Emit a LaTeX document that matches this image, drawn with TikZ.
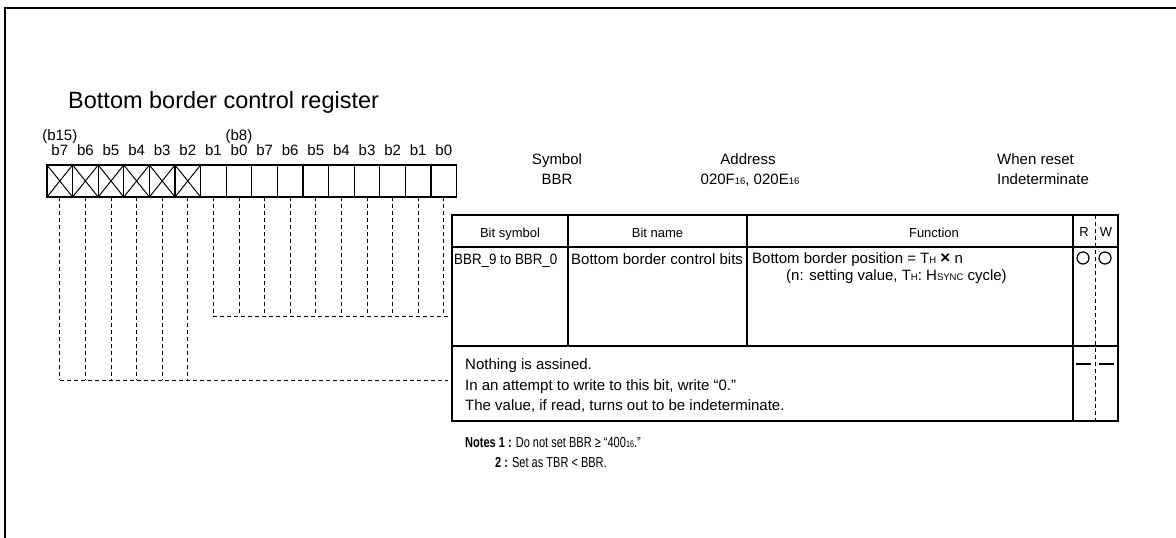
\documentclass[tikz,border=0pt]{standalone}
\usepackage{fontspec}
\usepackage{graphicx}
\setmainfont{Liberation Sans}
\newcommand{\sz}[1]{\fontsize{#1}{#1}\selectfont}
\newcommand{\sub}[1]{{\sz{9.5}#1}}
\begin{document}
\begin{tikzpicture}[x=1pt,y=-1pt,
  frame/.style={line width=2.5pt},
  cell/.style={draw, line width=1.3pt, minimum width=25.6pt, minimum height=32pt, inner sep=0pt, outer sep=0pt},
  cross/.style={line width=1pt},
  tbl/.style={line width=1.3pt},
  dsh/.style={line width=1pt, dash pattern=on 4pt off 3pt},
  txt/.style={inner sep=0pt, font=\sz{15}},
  hdr/.style={inner sep=0pt, font=\sz{13}},
  note/.style={inner sep=0pt, font=\sz{14.5}},
  rw/.style={circle, draw, line width=1.2pt, minimum size=12pt, inner sep=0pt}]
\useasboundingbox (0,0) rectangle (1176,538);
% frame
\draw[frame] (5,538) -- (5,8) -- (1176,8);
% title
\node[inner sep=0pt, anchor=base west, font=\sz{23.5}] (title) at (68,108) {Bottom border control register};
% bit cells
\foreach \i in {0,...,15}{
  \node[cell, anchor=north west] (c\i) at ({47+25.6*\i},165) {};
  \pgfmathtruncatemacro{\b}{7-mod(\i,8)}
  \node[txt, anchor=base] (lb\i) at ({59.8+25.6*\i},155) {b\b};
}
\foreach \i in {0,...,5}{
  \draw[cross] (c\i.north west) -- (c\i.south east) (c\i.north east) -- (c\i.south west);
}
\node[txt, anchor=base] (b15) at (59.8,140) {(b15)};
\node[txt, anchor=base] (b8) at (239,140) {(b8)};
% header info
\node[txt, anchor=base] (symh) at (557,164) {Symbol};
\node[txt, anchor=base] (symv) at (557,184) {BBR};
\node[txt, anchor=base] (addh) at (748,164) {Address};
\node[txt, anchor=base] (addv) at (750,184) {020F\sub{16}, 020E\sub{16}};
\node[txt, anchor=base west] (rsth) at (997,164) {When reset};
\node[txt, anchor=base west] (rstv) at (997,184) {Indeterminate};
% dashed connectors
\coordinate (hA) at (448,380);
\coordinate (hB) at (448,316);
\foreach \i in {0,...,5}{
  \draw[dsh] (c\i.south) -- (c\i.south |- hA);
}
\foreach \i in {6,...,15}{
  \draw[dsh] (c\i.south) -- (c\i.south |- hB);
}
\draw[dsh] (c0.south |- hA) -- (hA);
\draw[dsh] (c6.south |- hB) -- (hB);
% table
\draw[tbl] (452,215) rectangle (1118,421);
\draw[tbl] (452,247) -- (1118,247);
\draw[tbl] (452,346) -- (1118,346);
\draw[tbl] (568,215) -- (568,346);
\draw[tbl] (747,215) -- (747,346);
\draw[tbl] (1073,215) -- (1073,421);
\draw[dsh] (1095,215) -- (1095,421);
% header row
\node[hdr, anchor=base] (hsym) at (510,237) {Bit symbol};
\node[hdr, anchor=base] (hname) at (657.5,237) {Bit name};
\node[hdr, anchor=base] (hfun) at (934,237) {Function};
\node[hdr, anchor=base] (hr) at (1084,236) {R};
\node[hdr, anchor=base] (hw) at (1106,236) {W};
% row 1
\node[txt, anchor=base west] (r1sym) at (454,264) {\scalebox{0.89}[1]{BBR\_9 to BBR\_0}};
\node[txt, anchor=base west] (r1name) at (571,264) {Bottom border control bits};
\node[txt, anchor=base west] (r1fa) at (752,263) {Bottom border position = T\sub{H} {\sz{17}\bfseries ×} n};
\node[txt, anchor=base west] (r1fb) at (786,280) {(n: setting value, T\sub{H}: H\sub{SYNC} cycle)};
\node[rw] (r1r) at (1083,258) {};
\node[rw] (r1w) at (1105,258) {};
% row 2
\node[txt, anchor=base west] (r2a) at (465,369) {Nothing is assined.};
\node[txt, anchor=base west] (r2b) at (465,390) {In an attempt to write to this bit, write “0.”};
\node[txt, anchor=base west] (r2c) at (465,410) {The value, if read, turns out to be indeterminate.};
\coordinate (r2rl) at (1076,364);
\coordinate (r2rr) at (1091,364);
\coordinate (r2wl) at (1099,364);
\coordinate (r2wr) at (1114,364);
\draw[line width=1.2pt] (r2rl) -- (r2rr);
\draw[line width=1.2pt] (r2wl) -- (r2wr);
% notes
\node[note, anchor=base west] (n1) at (465,447) {\scalebox{0.76}[1]{\textbf{Notes 1 :} Do not set BBR ≥ “400\sub{16}.”}};
\node[note, anchor=base west] (n2) at (495,467) {\scalebox{0.76}[1]{\textbf{2 :} Set as TBR < BBR.}};
\end{tikzpicture}
\end{document}
